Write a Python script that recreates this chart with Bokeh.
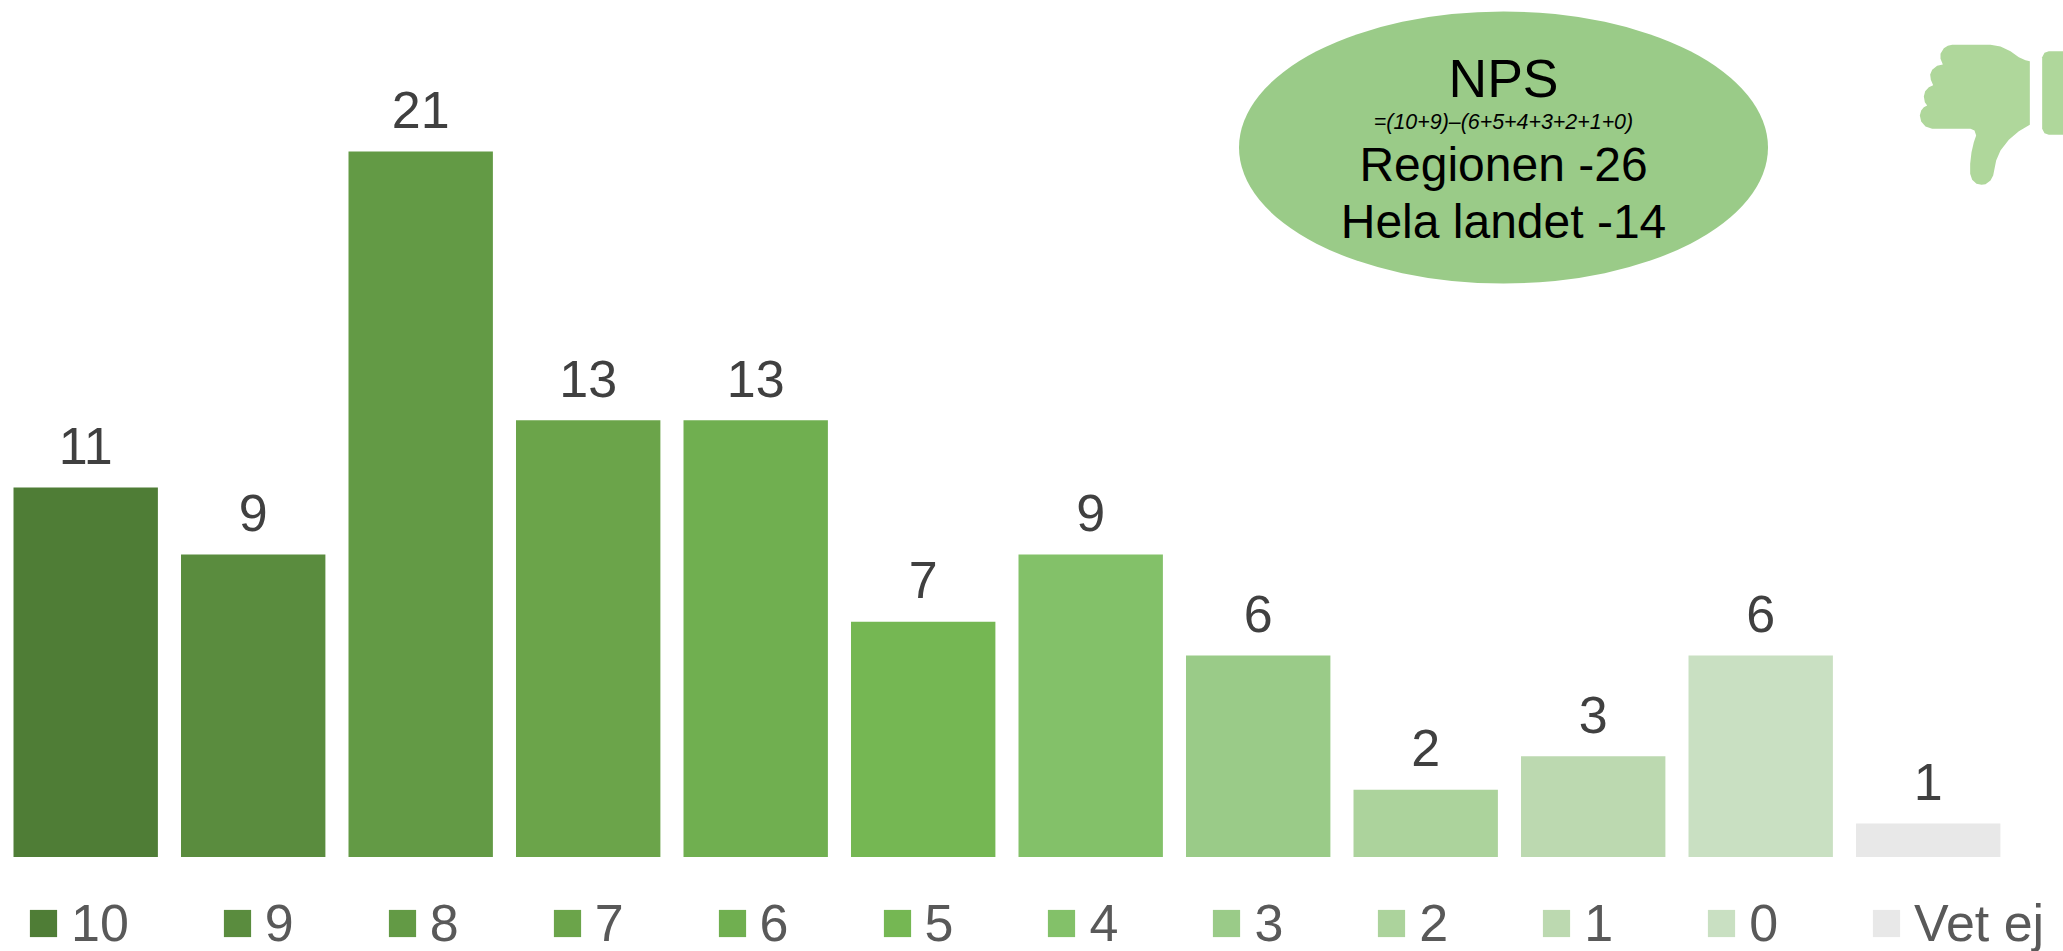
from bokeh.plotting import figure
from bokeh.models import Legend, LegendItem, Range1d, ColumnDataSource
from bokeh.core.properties import value
from bokeh.embed import file_html
from bokeh.resources import INLINE

categories = ["10", "9", "8", "7", "6", "5", "4", "3", "2", "1", "0", "Vet ej"]
values = [11, 9, 21, 13, 13, 7, 9, 6, 2, 3, 6, 1]
colors = ["#4f7d36", "#5a8c3e", "#639a45", "#6ba44a", "#70af50", "#75b753",
          "#83c169", "#9acb88", "#acd39c", "#bcd9b0", "#c9e0c2", "#e8e8e8"]
nps_lines = ["NPS", "=(10+9)–(6+5+4+3+2+1+0)", "Regionen -26", "Hela landet -14"]
nps_base = [78, 121, 163.5, 220.5]
nps_size = ["53.5px", "21.4px", "48px", "48px"]
nps_style = ["normal", "italic", "normal", "normal"]

W, H = 2063, 951
FONT = value("Liberation Sans")
x0, dx = 85.2, 167.5
base, dy = 856.5, 33.6

p = figure(width=W, height=H, output_backend="svg", toolbar_location=None,
           x_range=Range1d(-x0 / dx, (W - x0) / dx),
           y_range=Range1d((base - H) / dy, base / dy),
           min_border=0, min_border_left=0, min_border_right=0,
           min_border_top=0, min_border_bottom=0)
p.axis.visible = False
p.grid.visible = False
p.outline_line_color = None
p.background_fill_color = "white"
p.extra_x_ranges["px"] = Range1d(0, W)
p.extra_y_ranges["px"] = Range1d(H, 0)

items = []
for i, (c, v, col) in enumerate(zip(categories, values, colors)):
    src = ColumnDataSource(dict(x=[i], top=[v], label=[str(v)]))
    r = p.vbar(x="x", top="top", bottom=0, width=0.862, source=src,
               fill_color=col, line_color=None)
    p.text(x="x", y="top", text="label", source=src, text_align="center",
           text_baseline="alphabetic", x_offset=0, y_offset=-41.5, text_font=FONT,
           text_font_size="52px", text_color="#404040")
    items.append(LegendItem(label=c, renderers=[r]))

legend = Legend(items=items, orientation="horizontal", location=(26, -2),
                glyph_width=34, glyph_height=34, label_standoff=11, spacing=91,
                margin=0, padding=0, border_line_color=None,
                background_fill_alpha=0, label_text_font="Liberation Sans",
                label_text_font_size="52px", label_text_color="#595959",
                label_height=40)
p.add_layout(legend, "center")

# NPS ellipse
p.ellipse(x=[1503], y=[147], width=529, height=272, width_units="screen",
          height_units="screen", fill_color="#9acb88", line_color=None,
          x_range_name="px", y_range_name="px")
for line, yy, size, style in zip(nps_lines, nps_base, nps_size, nps_style):
    p.text(x=[1503], y=[yy], text=[line], x_range_name="px", y_range_name="px",
           text_align="center", text_baseline="alphabetic", text_font=FONT,
           text_color="#000000", text_font_size=size, text_font_style=style)

# thumb icon, traced
hand = [(185,73),(300,73),(330,78),(360,92),(385,110),(405,119),(418,122),(418,313),(385,332),
        (355,358),(330,390),(317,420),(311,450),(308,465),(300,480),(285,491),(273,493),(258,490),
        (245,478),(239,460),(239,430),(243,395),(250,365),(257,345),(252,330),(240,325),(125,325),
        (105,318),(92,303),(88,285),(92,270),(100,260),(110,255),(103,245),(100,228),(104,212),
        (115,200),(128,194),(121,178),(119,162),(125,148),(140,136),(157,132),(150,115),(150,100),
        (160,83),(172,76)]
cuff = [(519,92),(475,92),(462,97),(455,110),(455,325),(462,338),(475,343),(519,343)]
for shape in (hand, cuff):
    p.patch(x=[1890 + a / 3 for a, b in shape], y=[20 + b / 3 for a, b in shape],
            fill_color="#afd79b", line_color=None, x_range_name="px", y_range_name="px")

open("out.html", "w").write(file_html(p, INLINE))
